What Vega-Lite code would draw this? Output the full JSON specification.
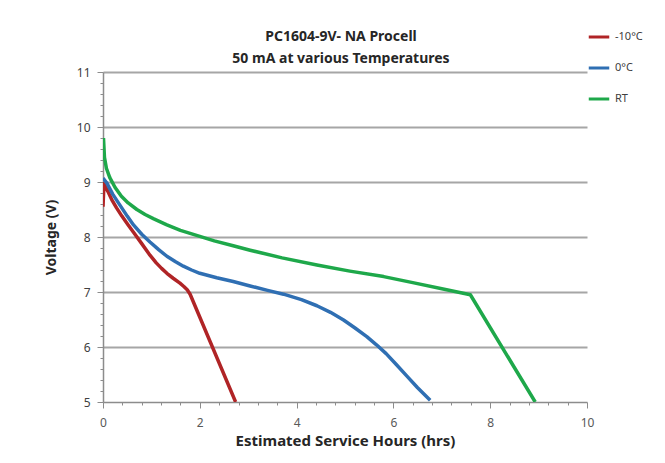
{
  "$schema": "https://vega.github.io/schema/vega-lite/v6.json",
  "width": 484,
  "height": 330,
  "autosize": {"type": "none"},
  "padding": {"left": 103, "top": 72, "right": 78, "bottom": 61},
  "background": "white",
  "title": {
    "text": ["PC1604-9V- NA Procell", "50 mA at various Temperatures"],
    "anchor": "middle",
    "dx": -4,
    "font": "Noto Sans",
    "fontSize": 14,
    "fontWeight": "bold",
    "color": "#262626",
    "lineHeight": 22,
    "offset": -41
  },
  "data": {
    "values": [
      {"series": "-10°C", "hours": 0, "voltage": 8.55},
      {"series": "-10°C", "hours": 0.02, "voltage": 8.97},
      {"series": "-10°C", "hours": 0.1, "voltage": 8.83},
      {"series": "-10°C", "hours": 0.18, "voltage": 8.68},
      {"series": "-10°C", "hours": 0.28, "voltage": 8.53},
      {"series": "-10°C", "hours": 0.39, "voltage": 8.38},
      {"series": "-10°C", "hours": 0.52, "voltage": 8.22},
      {"series": "-10°C", "hours": 0.66, "voltage": 8.05},
      {"series": "-10°C", "hours": 0.8, "voltage": 7.88},
      {"series": "-10°C", "hours": 0.97, "voltage": 7.67},
      {"series": "-10°C", "hours": 1.1, "voltage": 7.53},
      {"series": "-10°C", "hours": 1.21, "voltage": 7.43},
      {"series": "-10°C", "hours": 1.32, "voltage": 7.34},
      {"series": "-10°C", "hours": 1.45, "voltage": 7.25},
      {"series": "-10°C", "hours": 1.59, "voltage": 7.16},
      {"series": "-10°C", "hours": 1.67, "voltage": 7.1},
      {"series": "-10°C", "hours": 1.74, "voltage": 7.04},
      {"series": "-10°C", "hours": 1.8, "voltage": 6.96},
      {"series": "-10°C", "hours": 2.74, "voltage": 5.0},
      {"series": "0°C", "hours": 0, "voltage": 9.07},
      {"series": "0°C", "hours": 0.08, "voltage": 8.98},
      {"series": "0°C", "hours": 0.2, "voltage": 8.78},
      {"series": "0°C", "hours": 0.35, "voltage": 8.58},
      {"series": "0°C", "hours": 0.5, "voltage": 8.38},
      {"series": "0°C", "hours": 0.63, "voltage": 8.22},
      {"series": "0°C", "hours": 0.8, "voltage": 8.05},
      {"series": "0°C", "hours": 0.97, "voltage": 7.91},
      {"series": "0°C", "hours": 1.15, "voltage": 7.77},
      {"series": "0°C", "hours": 1.32, "voltage": 7.65},
      {"series": "0°C", "hours": 1.5, "voltage": 7.55},
      {"series": "0°C", "hours": 1.66, "voltage": 7.47},
      {"series": "0°C", "hours": 1.83, "voltage": 7.4},
      {"series": "0°C", "hours": 2.0, "voltage": 7.34},
      {"series": "0°C", "hours": 2.35, "voltage": 7.26},
      {"series": "0°C", "hours": 2.69, "voltage": 7.19},
      {"series": "0°C", "hours": 3.04, "voltage": 7.11},
      {"series": "0°C", "hours": 3.4, "voltage": 7.03},
      {"series": "0°C", "hours": 3.73, "voltage": 6.96},
      {"series": "0°C", "hours": 4.1, "voltage": 6.86},
      {"series": "0°C", "hours": 4.42, "voltage": 6.75},
      {"series": "0°C", "hours": 4.7, "voltage": 6.63},
      {"series": "0°C", "hours": 4.97, "voltage": 6.49},
      {"series": "0°C", "hours": 5.2, "voltage": 6.35},
      {"series": "0°C", "hours": 5.45, "voltage": 6.19},
      {"series": "0°C", "hours": 5.65, "voltage": 6.04},
      {"series": "0°C", "hours": 5.85, "voltage": 5.88},
      {"series": "0°C", "hours": 6.05, "voltage": 5.69},
      {"series": "0°C", "hours": 6.27, "voltage": 5.48},
      {"series": "0°C", "hours": 6.5, "voltage": 5.26},
      {"series": "0°C", "hours": 6.76, "voltage": 5.03},
      {"series": "RT", "hours": 0.01, "voltage": 9.8},
      {"series": "RT", "hours": 0.03, "voltage": 9.45},
      {"series": "RT", "hours": 0.07, "voltage": 9.25},
      {"series": "RT", "hours": 0.14, "voltage": 9.08},
      {"series": "RT", "hours": 0.25, "voltage": 8.9},
      {"series": "RT", "hours": 0.38, "voltage": 8.74},
      {"series": "RT", "hours": 0.52, "voltage": 8.62},
      {"series": "RT", "hours": 0.7, "voltage": 8.5},
      {"series": "RT", "hours": 0.87, "voltage": 8.41},
      {"series": "RT", "hours": 1.05, "voltage": 8.33},
      {"series": "RT", "hours": 1.32, "voltage": 8.22},
      {"series": "RT", "hours": 1.6, "voltage": 8.12},
      {"series": "RT", "hours": 2.0, "voltage": 8.01},
      {"series": "RT", "hours": 2.3, "voltage": 7.93},
      {"series": "RT", "hours": 2.69, "voltage": 7.84},
      {"series": "RT", "hours": 3.04, "voltage": 7.76},
      {"series": "RT", "hours": 3.7, "voltage": 7.62},
      {"series": "RT", "hours": 4.42, "voltage": 7.49},
      {"series": "RT", "hours": 5.1, "voltage": 7.38},
      {"series": "RT", "hours": 5.8, "voltage": 7.28},
      {"series": "RT", "hours": 6.4, "voltage": 7.17},
      {"series": "RT", "hours": 7.1, "voltage": 7.04},
      {"series": "RT", "hours": 7.59, "voltage": 6.95},
      {"series": "RT", "hours": 8.93, "voltage": 5.0}
    ]
  },
  "mark": {"type": "line", "strokeWidth": 3.5, "strokeCap": "butt", "strokeJoin": "round", "interpolate": "linear", "clip": true},
  "encoding": {
    "x": {
      "field": "hours",
      "type": "quantitative",
      "scale": {"domain": [0, 10], "nice": false, "zero": false},
      "axis": {
        "title": "Estimated Service Hours (hrs)",
        "values": [0, 0.4, 0.8, 1.2, 1.6, 2, 2.4, 2.8, 3.2, 3.6, 4, 4.4, 4.8, 5.2, 5.6, 6, 6.4, 6.8, 7.2, 7.6, 8, 8.4, 8.8, 9.2, 9.6, 10],
        "labelExpr": "abs(datum.value - round(datum.value / 2) * 2) < 0.01 ? format(datum.value, 'd') : ''",
        "tickSize": {"condition": {"test": "abs(datum.value - round(datum.value / 2) * 2) < 0.01", "value": 6}, "value": 3},
        "labelFlush": false,
        "labelOverlap": false,
        "grid": false,
        "domainColor": "#8c8c8c",
        "domainWidth": 1.5,
        "tickColor": "#8c8c8c",
        "tickWidth": 1,
        "labelPadding": 9,
        "labelFont": "Noto Sans",
        "labelFontSize": 12,
        "labelColor": "#595959",
        "titleFont": "Noto Sans",
        "titleFontSize": 15,
        "titleFontWeight": "bold",
        "titleColor": "#262626",
        "titlePadding": 5
      }
    },
    "y": {
      "field": "voltage",
      "type": "quantitative",
      "scale": {"domain": [5, 11], "nice": false, "zero": false},
      "axis": {
        "title": "Voltage (V)",
        "values": [5, 5.2, 5.4, 5.6, 5.8, 6, 6.2, 6.4, 6.6, 6.8, 7, 7.2, 7.4, 7.6, 7.8, 8, 8.2, 8.4, 8.6, 8.8, 9, 9.2, 9.4, 9.6, 9.8, 10, 10.2, 10.4, 10.6, 10.8, 11],
        "labelExpr": "abs(datum.value - round(datum.value)) < 0.01 ? format(datum.value, 'd') : ''",
        "tickSize": {"condition": {"test": "abs(datum.value - round(datum.value)) < 0.01", "value": 6}, "value": 3},
        "labelFlush": false,
        "labelOverlap": false,
        "grid": true,
        "gridColor": "#a6a6a6",
        "gridWidth": 2,
        "gridOpacity": {"condition": {"test": "abs(datum.value - round(datum.value)) < 0.01 && datum.value > 5.5", "value": 1}, "value": 0},
        "domainColor": "#8c8c8c",
        "domainWidth": 1.5,
        "tickColor": "#8c8c8c",
        "tickWidth": 1,
        "labelPadding": 7,
        "labelFont": "Noto Sans",
        "labelFontSize": 12,
        "labelColor": "#404040",
        "titleFont": "Noto Sans",
        "titleFontSize": 14,
        "titleFontWeight": "bold",
        "titleColor": "#262626",
        "titlePadding": 18
      }
    },
    "color": {
      "field": "series",
      "type": "nominal",
      "scale": {"domain": ["-10°C", "0°C", "RT"], "range": ["#b02426", "#2f6fb3", "#1ea84a"]},
      "legend": {
        "title": null,
        "orient": "none",
        "legendX": 484,
        "legendY": -47,
        "symbolType": "stroke",
        "symbolSize": 420,
        "symbolStrokeWidth": 3,
        "rowPadding": 13,
        "labelOffset": 4,
        "padding": 0,
        "labelFont": "Noto Sans",
        "labelFontSize": 11,
        "labelColor": "#404040"
      }
    }
  },
  "config": {"view": {"stroke": null}}
}
